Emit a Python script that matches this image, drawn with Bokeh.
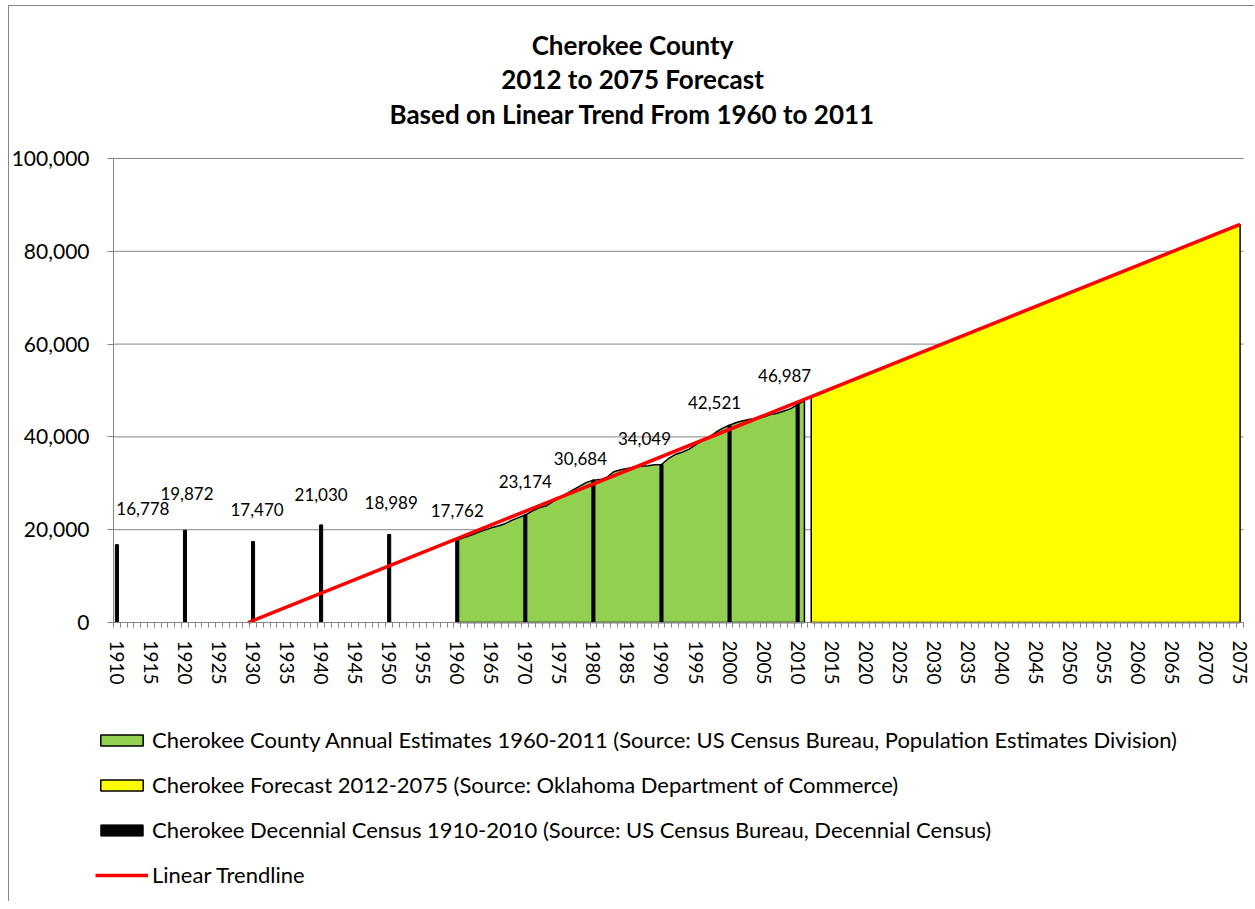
from bokeh.plotting import figure
from bokeh.models import (Range1d, FixedTicker, NumeralTickFormatter, Legend, LegendItem,
                          Label, ColumnDataSource)
from bokeh.core.properties import value
from bokeh.embed import file_html
from bokeh.resources import INLINE

# ---------------- data ----------------
census_years = [1910, 1920, 1930, 1940, 1950, 1960, 1970, 1980, 1990, 2000, 2010]
census_values = [16778, 19872, 17470, 21030, 18989, 17762, 23174, 30684, 34049, 42521, 46987]

annual_years = list(range(1960, 2012))
annual_values = [17762, 18300, 18800, 19400, 19900, 20400, 20800, 21300, 22000, 22600,
                 23174, 24000, 24700, 25100, 26000, 26800, 27700, 28600, 29400, 30200,
                 30684, 30800, 31300, 32500, 32900, 33200, 33500, 33700, 33800, 34000,
                 34049, 35300, 36200, 36700, 37300, 38300, 39200, 40000, 41000, 41900,
                 42521, 43100, 43500, 43800, 44000, 44300, 44800, 45100, 45600, 46100,
                 46987, 47800]

forecast_years = [2012, 2075]
forecast_values = [48500, 85800]

trend_years = [1929.3, 2075]
trend_values = [0, 85800]

tick_years = list(range(1910, 2076, 5))
tick_labels = [str(y) for y in tick_years]
y_ticks = [0, 20000, 40000, 60000, 80000, 100000]

title_lines = ["Cherokee County", "2012 to 2075 Forecast", "Based on Linear Trend From 1960 to 2011"]
legend_labels = [
    "Cherokee County Annual Estimates 1960-2011 (Source: US Census Bureau, Population Estimates Division)",
    "Cherokee Forecast 2012-2075 (Source: Oklahoma Department of Commerce)",
    "Cherokee Decennial Census 1910-2010 (Source: US Census Bureau, Decennial Census)",
    "Linear Trendline",
]

# ---------------- layout constants (pixels, styling only) ----------------
label_dx = [26, 2, 4, 0, 2, 0, 0, -13, -17, -15, -13]
label_dy = [-36, -37, -32, -30, -32, -30, -33, -22, -26, -23, -29]
W, H = 1246, 896            # canvas (page origin at x=9, y=6)
PLOT_L, PLOT_R = 104, 1234  # plot-area x extent inside canvas
PLOT_T, PLOT_B = 152, 616   # plot-area y extent inside canvas
X0, X1 = 1909.5, 2075.5
Y0, Y1 = 0, 100000
title_x = 623
title_y = [858, 824, 789]
legend_loc = (86, 14)

FONT = "Lato"
GREY = "#868686"

xs = (X1 - X0) / (PLOT_R - PLOT_L)
ys = (Y1 - Y0) / (PLOT_B - PLOT_T)
x_range = Range1d(X0 - PLOT_L * xs, X1 + (W - PLOT_R) * xs)
y_range = Range1d(Y0 - (H - PLOT_B) * ys, Y1 + PLOT_T * ys)

p = figure(width=W, height=H, output_backend="svg", toolbar_location=None,
           x_range=x_range, y_range=y_range,
           min_border_left=0, min_border_right=0, min_border_top=0, min_border_bottom=0)
p.outline_line_color = None
p.background_fill_color = "white"
p.border_fill_color = "white"
p.styles = {"border-top": "1px solid #868686", "border-left": "1px solid #868686",
            "margin-left": "8px", "margin-top": "5px"}

# titles
for t, ty in zip(title_lines, title_y):
    p.add_layout(Label(x=title_x, y=ty, x_units="screen", y_units="screen", text=t,
                       text_font=FONT, text_font_size="26px", text_font_style="bold",
                       text_align="center", text_baseline="middle", text_color="black"))

# grid lines (limited to plot area)
p.xgrid.grid_line_color = None
p.ygrid.grid_line_color = None
p.segment(x0=[X0] * len(y_ticks), x1=[X1] * len(y_ticks), y0=y_ticks, y1=y_ticks,
          line_color=GREY, line_width=1)

green_x = annual_years + [annual_years[-1], annual_years[0]]
green_y = annual_values + [0, 0]
yellow_x = forecast_years + [forecast_years[-1], forecast_years[0]]
yellow_y = forecast_values + [0, 0]

r_green = p.patch(green_x, green_y, fill_color="#92D050", line_color="black", line_width=1.5)
r_yellow = p.patch(yellow_x, yellow_y, fill_color="#FFFF00", line_color="black", line_width=1.5)
r_census = p.vbar(x=census_years, top=census_values, width=0.45, fill_color="black",
                  line_color="black")
r_trend = p.line(trend_years, trend_values, line_color="#FF0000", line_width=3.5)

lab_src = ColumnDataSource(dict(x=census_years, y=census_values,
                                text=[f"{v:,}" for v in census_values],
                                dx=label_dx, dy=label_dy))
p.text(x="x", y="y", text="text", x_offset="dx", y_offset="dy", source=lab_src,
       text_font=value(FONT), text_font_size="17px", text_align="center",
       text_baseline="middle", text_color="black")

# axes fixed at the plot-area edges
p.xaxis.fixed_location = Y0
p.xaxis.bounds = (X0, X1)
p.xaxis.ticker = FixedTicker(ticks=tick_years, minor_ticks=[X0 + i for i in range(167)])
p.xaxis.major_label_overrides = {y: l for y, l in zip(tick_years, tick_labels)}
p.xaxis.major_label_orientation = "vertical"
p.xaxis.major_tick_line_color = None
p.xaxis.minor_tick_line_color = GREY
p.xaxis.minor_tick_out = 5
p.xaxis.minor_tick_in = 0
p.xaxis.axis_line_color = GREY
p.xaxis.major_label_text_font = FONT
p.xaxis.major_label_text_font_size = "19px"
p.xaxis.major_label_text_color = "black"
p.xaxis.major_label_standoff = 12

p.yaxis.fixed_location = X0
p.yaxis.bounds = (Y0, Y1)
p.yaxis.ticker = FixedTicker(ticks=y_ticks)
p.yaxis.formatter = NumeralTickFormatter(format="0,0")
p.yaxis.axis_line_color = GREY
p.yaxis.major_tick_line_color = GREY
p.yaxis.major_tick_out = 6
p.yaxis.major_tick_in = 0
p.yaxis.minor_tick_line_color = None
p.yaxis.major_label_text_font = FONT
p.yaxis.major_label_text_font_size = "21px"
p.yaxis.major_label_text_color = "black"
p.yaxis.major_label_standoff = 18

legend = Legend(items=[LegendItem(label=legend_labels[0], renderers=[r_green]),
                       LegendItem(label=legend_labels[1], renderers=[r_yellow]),
                       LegendItem(label=legend_labels[2], renderers=[r_census]),
                       LegendItem(label=legend_labels[3], renderers=[r_trend])],
                location=legend_loc, orientation="vertical",
                label_text_font=FONT, label_text_font_size="22px", label_text_color="black",
                glyph_width=53, glyph_height=14, label_height=20, spacing=18,
                label_standoff=4, border_line_color=None, background_fill_alpha=0,
                padding=0, margin=0)
p.add_layout(legend, "center")

open("out.html", "w").write(file_html(p, INLINE))
